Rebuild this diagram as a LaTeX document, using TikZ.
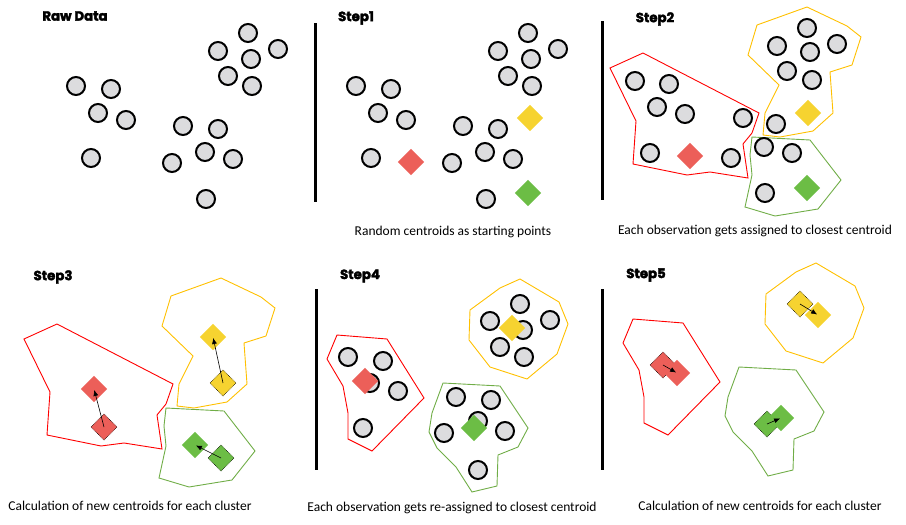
\documentclass[tikz,border=0pt]{standalone}
\usepackage{fontspec}
\setmainfont{Carlito}
\newfontfamily\titlefont{Poppins}[BoldFeatures={FakeBold=2.5}]
\usetikzlibrary{arrows.meta}
\definecolor{ptfill}{HTML}{DCDCDE}
\definecolor{cred}{HTML}{EC5F59}
\definecolor{cyel}{HTML}{F6D330}
\definecolor{cgrn}{HTML}{6CBD45}
\definecolor{lred}{HTML}{FF0000}
\definecolor{lyel}{HTML}{FFC000}
\definecolor{lgrn}{HTML}{70AD47}
\begin{document}
\begin{tikzpicture}[x=1pt,y=-1pt,
 pt/.style={circle,draw=black,line width=2pt,fill=ptfill,minimum size=18pt,inner sep=0pt},
 cen/.style={rectangle,rotate=45,minimum size=18.4pt,inner sep=0pt},
 oldcen/.style={cen,draw=black,densely dotted,line width=0.6pt},
 ttl/.style={font=\titlefont\bfseries\fontsize{13.3}{15}\selectfont},
 captext/.style={font=\fontsize{13.5}{15}\selectfont},
 hull/.style={line width=0.9pt},
 sep/.style={line width=3pt},
 move/.style={-{Latex[length=6pt,width=5pt]},line width=0.6pt,shorten >=1pt}]
\useasboundingbox (0,0) rectangle (906,525);

\def\redA{(610,68) -- (643,53) -- (759,113) -- (752,133) -- (743,144) -- (748,178) -- (710,172) -- (687,175) -- (633,164) -- (636,121) -- cycle}
\def\yelA{(748,55) -- (757,25) -- (807,7) -- (847,26) -- (861,37) -- (852,65) -- (830,72) -- (833,113) -- (813,131) -- (780,137) -- (763,135) -- (765,113) -- (779,85) -- cycle}
\def\grnA{(752,137) -- (810,140) -- (841,180) -- (818,209) -- (775,216) -- (745,207) -- (752,175) -- (750,155) -- cycle}
\def\redB{(337,335) -- (387,339) -- (424,398) -- (372,451) -- (348,439) -- (348,413) -- (343,386) -- (327,359) -- cycle}
\def\yelB{(470,310) -- (500,288) -- (520,279) -- (559,302) -- (568,324) -- (557,354) -- (527,379) -- (490,367) -- (469,340) -- cycle}
\def\grnB{(443,383) -- (500,386) -- (528,428) -- (518,447) -- (498,455) -- (497,486) -- (472,492) -- (456,467) -- (437,448) -- (429,432) -- (432,413) -- cycle}

% ---------- Raw Data ----------
\node[ttl] (t0) at (75,16) {Raw Data};
\foreach \x/\y [count=\i] in {248/33,218/51,278/49,251/59,228/76,252/86,76/86,111/89,98/113,126/120,91/158,183/126,218/129,205/152,172/163,233/159,206/199}
  \node[pt] (a\i) at (\x,\y) {};

% ---------- Step1 ----------
\coordinate (s1a) at (315,23); \coordinate (s1b) at (315,202);
\draw[sep] (s1a) -- (s1b);
\node[ttl] (t1) at (356,18) {Step1};
\foreach \x/\y [count=\i] in {248/33,218/51,278/49,251/59,228/76,252/86,76/86,111/89,98/113,126/120,91/158,183/126,218/129,205/152,172/163,233/159,206/199}
  \node[pt] (b\i) at (\x+280,\y) {};
\node[cen,fill=cred] (b-r) at (411,162) {};
\node[cen,fill=cyel] (b-y) at (530,118) {};
\node[cen,fill=cgrn] (b-g) at (528,193) {};
\node[captext] (c1) at (453,232) {Random centroids as starting points};

% ---------- Step2 ----------
\coordinate (s2a) at (602,21); \coordinate (s2b) at (602,200);
\draw[sep] (s2a) -- (s2b);
\node[ttl] (t2) at (655,19) {Step2};
\draw[hull,lred] \redA;
\draw[hull,lyel] \yelA;
\draw[hull,lgrn] \grnA;
\foreach \x/\y [count=\i] in {635/81,669/84,657/107,685/114,743/118,650/153,731/158,776/124,764/147,792/153,765/193,807/28,777/46,837/44,810/52,787/71,812/80}
  \node[pt] (d\i) at (\x,\y) {};
\node[cen,fill=cred] (d-r) at (690,156) {};
\node[cen,fill=cyel] (d-y) at (808,113) {};
\node[cen,fill=cgrn] (d-g) at (807,188) {};
\node[captext] (c2) at (755,231) {Each observation gets assigned to closest centroid};

% ---------- Step3 ----------
\node[ttl] (t3) at (53,277) {Step3};
\begin{scope}[shift={(-586,271)}]
\draw[hull,lred] \redA;
\draw[hull,lyel] \yelA;
\draw[hull,lgrn] \grnA;
\end{scope}
\node[oldcen,fill=cred] (e-ro) at (104,427) {};
\node[cen,fill=cred] (e-rn) at (94,389) {};
\node[oldcen,fill=cyel] (e-yo) at (223,383) {};
\node[cen,fill=cyel] (e-yn) at (213,337) {};
\node[oldcen,fill=cgrn] (e-go) at (221,458) {};
\node[cen,fill=cgrn] (e-gn) at (195,445) {};
\draw[move] (e-ro.center) -- (e-rn.center);
\draw[move] (e-yo.center) -- (e-yn.center);
\draw[move] (e-go.center) -- (e-gn.center);
\node[captext] (c3) at (130,506) {Calculation of new centroids for each cluster};

% ---------- Step4 ----------
\coordinate (s4a) at (316,289); \coordinate (s4b) at (316,470);
\draw[sep] (s4a) -- (s4b);
\node[ttl] (t4) at (360,276) {Step4};
\draw[hull,lred] \redB;
\draw[hull,lyel] \yelB;
\draw[hull,lgrn] \grnB;
\foreach \x/\y [count=\i] in {348/357,383/361,370/383,398/391,363/428,520/304,490/321,550/320,523/330,500/347,524/357,456/397,491/400,478/421,444/433,505/431,478/470}
  \node[pt] (f\i) at (\x,\y) {};
\node[cen,fill=cred] (f-r) at (365,381) {};
\node[cen,fill=cyel] (f-y) at (512,328) {};
\node[cen,fill=cgrn] (f-g) at (474,428) {};
\node[captext] (c4) at (452,508) {Each observation gets re-assigned to closest centroid};

% ---------- Step5 ----------
\coordinate (s5a) at (602,289); \coordinate (s5b) at (602,470);
\draw[sep] (s5a) -- (s5b);
\node[ttl] (t5) at (646,275) {Step5};
\begin{scope}[shift={(296,-16)}]
\draw[hull,lred] \redB;
\draw[hull,lyel] \yelB;
\draw[hull,lgrn] \grnB;
\end{scope}
\node[oldcen,fill=cred] (g-ro) at (663,365) {};
\node[cen,fill=cred] (g-rn) at (677,373) {};
\node[oldcen,fill=cyel] (g-yo) at (800,304) {};
\node[cen,fill=cyel] (g-yn) at (818,315) {};
\node[oldcen,fill=cgrn] (g-go) at (767,424) {};
\node[cen,fill=cgrn] (g-gn) at (781,418) {};
\draw[move] (g-ro.center) -- (g-rn.center);
\draw[move] (g-yo.center) -- (g-yn.center);
\draw[move] (g-go.center) -- (g-gn.center);
\node[captext] (c5) at (760,506) {Calculation of new centroids for each cluster};
\end{tikzpicture}
\end{document}
